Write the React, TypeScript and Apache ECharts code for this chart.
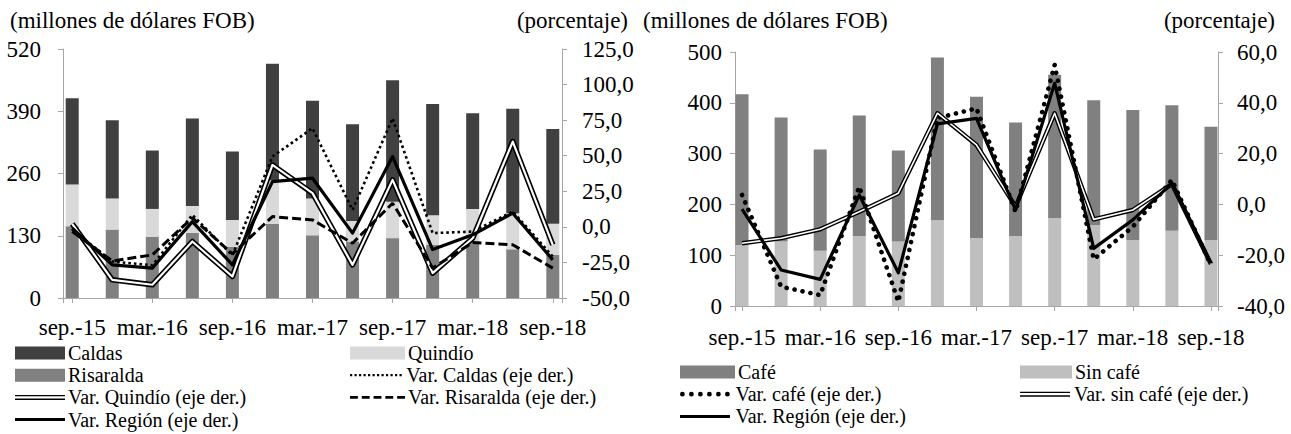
import React, { useEffect, useRef } from 'react';
import * as echarts from 'echarts';

// Quarters (only every second one is labelled on the axis)
const quarters = ['sep.-15', 'dic.-15', 'mar.-16', 'jun.-16', 'sep.-16', 'dic.-16', 'mar.-17', 'jun.-17', 'sep.-17', 'dic.-17', 'mar.-18', 'jun.-18', 'sep.-18'];

// Left chart: exports by department (millones de dólares FOB)
const caldas = [180, 163, 122, 183, 143, 243, 204, 202, 254, 232, 200, 218, 198];
const quindio = [87, 65, 58, 56, 56, 91, 77, 43, 76, 62, 68, 75, 65];
const risaralda = [150, 143, 128, 136, 107, 155, 131, 118, 125, 111, 118, 102, 90];
// Left chart: annual variations (porcentaje)
const varCaldas = [-2, -24.3, -27, 8.4, -20, 49.4, 69.3, 11.9, 76.3, -4.4, -3.3, 10.8, -20.8];
const varQuindio = [2.1, -37.2, -40.7, -10.3, -34.9, 43.5, 23.7, -26.7, 33, -32.5, -8, 59.9, -12.6];
const varRisaralda = [-3.3, -24, -19.7, 6.3, -19, 7.2, 4.9, -11.5, 16.6, -29, -11, -12.6, -29];
const varRegionL = [-1, -26.7, -29, 3.7, -26.7, 31.8, 34.2, -4.4, 49.4, -16, -5.6, 9.6, -23.2];

// Right chart: coffee / non-coffee exports
const cafe = [297, 244, 199, 237, 179, 320, 278, 223, 282, 246, 256, 247, 223];
const sinCafe = [120, 127, 109, 138, 127, 169, 134, 138, 173, 159, 130, 148, 130];
const varCafe = [3.7, -32.4, -35.7, 7, -38.3, 34, 37.8, -2.9, 54.9, -21.6, -8.8, 9.6, -23.9];
const varSinCafe = [-15.3, -13.3, -9.8, -2.9, 4.4, 35.9, 23.4, -0.9, 35.9, -5.9, -2.2, 8, -23.5];
const varRegionR = [-1.9, -25.8, -29.5, 3.7, -26.9, 31.7, 33.9, -2.2, 47.7, -17.3, -6.1, 8.3, -23.2];

// Axis ticks
const leftValueTicks = [0, 130, 260, 390, 520];
const leftPctTicks = [-50, -25, 0, 25, 50, 75, 100, 125];
const rightValueTicks = [0, 100, 200, 300, 400, 500];
const rightPctTicks = [-40, -20, 0, 20, 40, 60];

const FONT = "'Liberation Serif', 'Times New Roman', serif";
const FS = 23;
const LEG_FS = 20;
const AXIS = '#a6a6a6';

// [x, y] pairs for the lines; [y, x] pairs for stacked bars (so the value dimension is stacked)
const pairs = (arr: number[]) => arr.map((v, i) => [i, v]);
const barPairs = (arr: number[]) => arr.map((v, i) => [v, i]);
const pct = (v: number) => v.toFixed(1).replace('.', ',');

const xAxisFor = (gridIndex: number, min: number, max: number, margin: number) => ({
  type: 'value',
  gridIndex,
  min,
  max,
  splitNumber: 6,
  axisLine: { show: true, onZero: false, lineStyle: { color: AXIS, width: 1 } },
  axisTick: { show: true, length: 5, lineStyle: { color: AXIS } },
  axisLabel: {
    margin,
    fontFamily: FONT,
    fontSize: FS,
    color: '#000',
    formatter: (v: number) => {
      const r = Math.round(v);
      return Math.abs(v - r) < 1e-6 && quarters[r] ? quarters[r] : '';
    },
  },
  splitLine: { show: false },
});

const yAxisFor = (gridIndex: number, ticks: number[], position: string, margin: number, fmt?: (v: number) => string) => ({
  type: 'value',
  gridIndex,
  position,
  min: ticks[0],
  max: ticks[ticks.length - 1],
  interval: ticks[1] - ticks[0],
  axisLine: { show: true, onZero: false, lineStyle: { color: AXIS, width: 1 } },
  axisTick: { show: true, length: 5, lineStyle: { color: AXIS } },
  axisLabel: { margin, fontFamily: FONT, fontSize: FS, color: '#000', formatter: fmt },
  splitLine: { show: false },
});

// legend icon paths
const dashPath = (() => {
  let d = '';
  for (let x = 0; x < 52; x += 12) d += `M${x},0H${x + 8}V3H${x}Z`;
  return 'path://' + d;
})();
const smallDotPath = (() => {
  let d = '';
  for (let x = 0; x < 50; x += 4.5) d += `M${x},0H${x + 2.2}V2.2H${x}Z`;
  return 'path://' + d;
})();
const bigDotPath = (() => {
  let d = '';
  const r = 2.4;
  for (let i = 0; i < 6; i++) {
    const cx = r + i * 9;
    d += `M${cx - r},${r}A${r},${r} 0 1,0 ${cx + r},${r}A${r},${r} 0 1,0 ${cx - r},${r}Z`;
  }
  return 'path://' + d;
})();
const solidPath = 'path://M0,0H50V3H0Z';
const doublePath = 'path://M0,0H50V1.4H0Z M0,3.6H50V5H0Z';

const leg = (name: string, left: number, centerY: number, icon: string, w: number, h: number) => ({
  left,
  top: centerY - 10,
  padding: 0,
  selectedMode: false,
  itemWidth: w,
  itemHeight: h,
  itemGap: 0,
  data: [{ name, icon, itemStyle: { borderWidth: 0 } }],
  textStyle: { fontFamily: FONT, fontSize: LEG_FS, color: '#000', lineHeight: 20, padding: [0, 0, 0, -2] },
});

const titleStyle = { fontFamily: FONT, fontSize: FS, color: '#000', fontWeight: 'normal' };

const lineBase = { type: 'line', symbol: 'none', silent: true };
const barBase = { type: 'bar', barWidth: 13, silent: true, encode: { x: 1, y: 0 } };

const L_ROWS = [353, 375.2, 397.4, 419.6];
const R_ROWS = [372, 394.2, 416.4];

const option = {
  animation: false,
  textStyle: { fontFamily: FONT },
  title: [
    { text: '(millones de dólares FOB)', left: 10, top: 9, padding: 0, textStyle: titleStyle },
    { text: '(porcentaje)', right: 1291 - 628, top: 9, padding: 0, textStyle: titleStyle },
    { text: '(millones de dólares FOB)', left: 643, top: 9, padding: 0, textStyle: titleStyle },
    { text: '(porcentaje)', right: 16, top: 9, padding: 0, textStyle: titleStyle },
  ],
  grid: [
    { left: 63, top: 49, width: 499, height: 249 },
    { left: 735, top: 52, width: 483, height: 254 },
  ],
  xAxis: [xAxisFor(0, -0.23, 12.23, 18), xAxisFor(1, -0.18, 12.18, 20)],
  yAxis: [
    yAxisFor(0, leftValueTicks, 'left', 22),
    yAxisFor(0, leftPctTicks, 'right', 20, pct),
    yAxisFor(1, rightValueTicks, 'left', 13),
    yAxisFor(1, rightPctTicks, 'right', 19, pct),
  ],
  legend: [
    leg('Caldas', 15, L_ROWS[0], 'rect', 50, 13),
    leg('Quindío', 350, L_ROWS[0], 'rect', 55, 13),
    leg('Risaralda', 15, L_ROWS[1], 'rect', 50, 13),
    leg('Var. Caldas (eje der.)', 350, L_ROWS[1], smallDotPath, 55, 2.2),
    leg('Var. Quindío (eje der.)', 15, L_ROWS[2], doublePath, 50, 5),
    leg('Var. Risaralda (eje der.)', 350, L_ROWS[2], dashPath, 55, 3),
    leg('Var. Región (eje der.)', 15, L_ROWS[3], solidPath, 50, 3),
    leg('Café', 680, R_ROWS[0], 'rect', 55, 13),
    leg('Sin café', 1020, R_ROWS[0], 'rect', 52, 13),
    leg('Var. café (eje der.)', 680, R_ROWS[1], bigDotPath, 55, 4.8),
    leg('Var. sin café (eje der.)', 1020, R_ROWS[1], doublePath, 52, 5),
    leg('Var. Región (eje der.)', 680, R_ROWS[2], solidPath, 55, 3),
  ],
  series: [
    // Left chart bars
    { ...barBase, name: 'Risaralda', stack: 'L', xAxisIndex: 0, yAxisIndex: 0, data: barPairs(risaralda), itemStyle: { color: '#808080' } },
    { ...barBase, name: 'Quindío', stack: 'L', xAxisIndex: 0, yAxisIndex: 0, data: barPairs(quindio), itemStyle: { color: '#d9d9d9' } },
    { ...barBase, name: 'Caldas', stack: 'L', xAxisIndex: 0, yAxisIndex: 0, data: barPairs(caldas), itemStyle: { color: '#404040' } },
    // Left chart lines
    { ...lineBase, name: 'Var. Caldas (eje der.)', xAxisIndex: 0, yAxisIndex: 1, data: pairs(varCaldas), itemStyle: { color: '#000' }, lineStyle: { color: '#000', width: 2.6, type: [2.6, 3] } },
    { ...lineBase, name: 'Var. Quindío (eje der.)', xAxisIndex: 0, yAxisIndex: 1, data: pairs(varQuindio), itemStyle: { color: '#000' }, lineStyle: { color: '#000', width: 5.5, join: 'round' } },
    { ...lineBase, name: 'quindio-inner', xAxisIndex: 0, yAxisIndex: 1, data: pairs(varQuindio), itemStyle: { color: '#fff' }, lineStyle: { color: '#fff', width: 2.2, join: 'round' } },
    { ...lineBase, name: 'Var. Risaralda (eje der.)', xAxisIndex: 0, yAxisIndex: 1, data: pairs(varRisaralda), itemStyle: { color: '#000' }, lineStyle: { color: '#000', width: 3, type: [9, 4] } },
    { ...lineBase, name: 'Var. Región (eje der.)', xAxisIndex: 0, yAxisIndex: 1, data: pairs(varRegionL), itemStyle: { color: '#000' }, lineStyle: { color: '#000', width: 3.2, join: 'round' } },
    // Right chart bars
    { ...barBase, name: 'Sin café', stack: 'R', xAxisIndex: 1, yAxisIndex: 2, data: barPairs(sinCafe), itemStyle: { color: '#bfbfbf' } },
    { ...barBase, name: 'Café', stack: 'R', xAxisIndex: 1, yAxisIndex: 2, data: barPairs(cafe), itemStyle: { color: '#808080' } },
    // Right chart lines
    { ...lineBase, name: 'Var. café (eje der.)', xAxisIndex: 1, yAxisIndex: 3, data: pairs(varCafe), itemStyle: { color: '#000' }, lineStyle: { color: '#000', width: 4.6, type: [0.1, 8], cap: 'round' } },
    { ...lineBase, name: 'Var. sin café (eje der.)', xAxisIndex: 1, yAxisIndex: 3, data: pairs(varSinCafe), itemStyle: { color: '#000' }, lineStyle: { color: '#000', width: 4.4, join: 'round' } },
    { ...lineBase, name: 'sincafe-inner', xAxisIndex: 1, yAxisIndex: 3, data: pairs(varSinCafe), itemStyle: { color: '#fff' }, lineStyle: { color: '#fff', width: 1.6, join: 'round' } },
    { ...lineBase, name: 'Var. Región (eje der.)', xAxisIndex: 1, yAxisIndex: 3, data: pairs(varRegionR), itemStyle: { color: '#000' }, lineStyle: { color: '#000', width: 3.2, join: 'round' } },
  ],
};

export default function App() {
  const ref = useRef<HTMLDivElement>(null);
  useEffect(() => {
    if (!ref.current) return;
    const chart = echarts.init(ref.current, null, { renderer: 'svg' });
    chart.setOption(option as any);
    return () => chart.dispose();
  }, []);
  return <div ref={ref} style={{ position: 'absolute', left: 0, top: 0, width: 1291, height: 434 }} />;
}
